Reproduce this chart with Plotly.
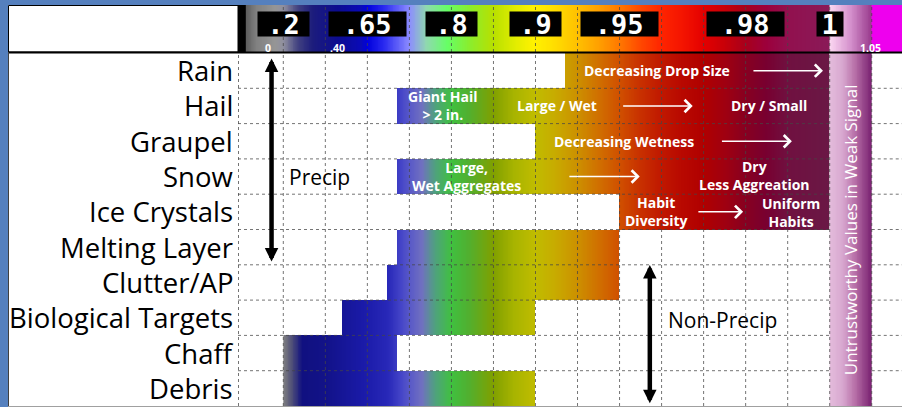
import numpy as np
import plotly.graph_objects as go

W, H = 902, 407

# ---------------- data ----------------
categories = ["Rain", "Hail", "Graupel", "Snow", "Ice Crystals", "Melting Layer",
              "Clutter/AP", "Biological Targets", "Chaff", "Debris"]
# extent of each class along the CC scale (column units of the table)
span_start = [7.7, 3.7, 7.0, 3.7, 9.0, 3.7, 3.47, 2.4, 1.0, 1.0]
span_end = [14.0, 14.0, 14.0, 14.0, 14.0, 9.0, 9.0, 7.0, 3.7, 7.0]
weak_start, weak_end = 14.0, 15.0

tick_labels = [".2", ".65", ".8", ".9", ".95", ".98", "1"]
tick_pos = [1, 3, 5, 7, 9, 12, 14]
sub_labels = ["0", ".40", "1.05"]
sub_pos = [0.64, 2.29, 14.96]

note_text = ["Decreasing Drop Size", "Giant Hail<br>&gt; 2 in.", "Large / Wet", "Dry / Small",
             "Decreasing Wetness", "Large,<br>Wet Aggregates", "Dry<br>Less Aggreation",
             "Habit<br>Diversity", "Uniform<br>Habits"]
note_row = [0, 1, 1, 1, 2, 3, 2.96, 4, 4.02]
note_pos = [9.9, 4.8, 7.5, 12.56, 9.1, 5.35, 12.2, 9.88, 13.08]

arrow_row = [0, 1, 2, 3, 4]
arrow_from = [12.15, 9.05, 11.4, 7.77, 10.84]
arrow_to = [13.84, 10.74, 13.1, 9.48, 11.94]

header_stops = [(-0.08, "#000000"), (0.09, "#000000"), (0.1, "#5a5a5a"), (0.35, "#808080"),
                (0.8, "#959595"), (1.0, "#9090a0"), (1.35, "#404080"), (1.7, "#1c1c7c"),
                (2.3, "#0c0c90"), (2.85, "#0a0ab8"), (3.0, "#0000dd"), (3.4, "#2a2af0"),
                (4.0, "#8c8cff"), (4.4, "#90d8b0"), (4.9, "#66ff66"), (5.4, "#88ee30"),
                (6.0, "#b8e000"), (6.5, "#e0ec00"), (6.95, "#fff200"), (7.4, "#ffe000"),
                (8.0, "#ffc000"), (8.5, "#ffa000"), (9.0, "#ff7800"), (9.5, "#ff4800"),
                (10.0, "#ff2400"), (10.5, "#f41400"), (11.0, "#e40000"), (11.5, "#c80008"),
                (12.0, "#a8001c"), (12.5, "#9c003c"), (13.0, "#92104e"), (13.98, "#8a1a58"),
                (14.0, "#fcd8f2"), (14.5, "#d490cc"), (14.98, "#9a3c8e"), (15.0, "#ee00ee"),
                (15.72, "#ee00ee")]
cell_stops = [(1.0, "#808080"), (1.2, "#505078"), (1.45, "#101080"), (2.0, "#121288"),
              (2.9, "#1a1aa8"), (3.5, "#2828b8"), (3.8, "#4444c8"), (4.0, "#5858c8"),
              (4.3, "#7070c0"), (4.6, "#50a080"), (5.0, "#40c040"), (5.4, "#50b030"),
              (6.0, "#80a000"), (6.5, "#a8b400"), (7.0, "#c0bc00"), (7.5, "#c8aa00"),
              (8.0, "#cc9000"), (8.5, "#d07000"), (9.0, "#d05000"), (9.5, "#c83000"),
              (10.0, "#c01800"), (10.5, "#b80800"), (11.0, "#b00000"), (11.5, "#a00010"),
              (12.0, "#880020"), (12.5, "#780030"), (13.0, "#701040"), (14.0, "#6a1845")]
weak_stops = [(14.0, "#e4bcdc"), (14.3, "#d8a8d0"), (14.6, "#b870a8"), (15.0, "#782070")]

# ---------------- helpers ----------------
X_LO, X_HI = -0.078, 15.72


def cscale(stops):
    lo, hi = stops[0][0], stops[-1][0]
    return [[(u - lo) / (hi - lo), c] for u, c in stops]


def edges(a, b, step=0.02):
    n = int(round((b - a) / step))
    return np.linspace(a, b, n + 1)


fig = go.Figure()

# header colour bar
he = edges(X_LO, X_HI)
hc = (he[:-1] + he[1:]) / 2
fig.add_trace(go.Heatmap(x=he, y=[0], z=[hc], colorscale=cscale(header_stops),
                         zmin=header_stops[0][0], zmax=header_stops[-1][0],
                         showscale=False, hoverinfo="skip", xaxis="x", yaxis="y2"))

# table cells
te = edges(1.0, 14.0)
tc = (te[:-1] + te[1:]) / 2
z = []
for s, e in zip(span_start, span_end):
    z.append([c if (s <= c < e) else np.nan for c in tc])
fig.add_trace(go.Heatmap(x=te, y=list(range(len(categories))), z=z,
                         colorscale=cscale(cell_stops), zmin=cell_stops[0][0], zmax=cell_stops[-1][0],
                         showscale=False, hoverinfo="skip", xaxis="x", yaxis="y"))

# ---------------- layout geometry ----------------
def px_x(p):
    return p / W


def px_y(p):
    return 1 - p / H


tbl_dom = [px_y(406), px_y(53)]
hdr_dom = [px_y(52), px_y(5)]

shapes = []
grid_style = dict(color="rgba(70,70,70,0.75)", width=1, dash="dot")
for k in range(1, 16):
    shapes.append(dict(type="line", xref="x", yref="paper", x0=k, x1=k,
                       y0=tbl_dom[0], y1=hdr_dom[1], line=grid_style, layer="above"))
shapes.append(dict(type="line", xref="paper", yref="paper", x0=px_x(238.5), x1=px_x(238.5),
                   y0=tbl_dom[0], y1=tbl_dom[1], line=grid_style, layer="above"))
for b in np.arange(0.5, len(categories) - 1, 1.0):
    shapes.append(dict(type="line", xref="x", yref="y", x0=X_LO, x1=weak_start, y0=b, y1=b,
                       line=grid_style, layer="above"))
    shapes.append(dict(type="line", xref="x", yref="y", x0=weak_end, x1=X_HI, y0=b, y1=b,
                       line=grid_style, layer="above"))

# weak-signal column drawn above the grid
we = edges(weak_start, weak_end)
wc = (we[:-1] + we[1:]) / 2
fig.add_trace(go.Heatmap(x=we, y=list(range(len(categories))),
                         z=[list(wc) for _ in categories],
                         colorscale=cscale(weak_stops), zmin=weak_stops[0][0], zmax=weak_stops[-1][0],
                         showscale=False, hoverinfo="skip", xaxis="x3", yaxis="y3"))

frame = "#5580be"
shapes += [
    dict(type="rect", xref="paper", yref="paper", x0=0, x1=px_x(8), y0=0, y1=1,
         fillcolor=frame, line=dict(width=0), layer="above"),
    dict(type="rect", xref="paper", yref="paper", x0=0, x1=1, y0=px_y(5), y1=1,
         fillcolor=frame, line=dict(width=0), layer="above"),
    dict(type="rect", xref="paper", yref="paper", x0=px_x(8.5), x1=px_x(238), y0=px_y(52), y1=px_y(5.5),
         fillcolor="white", line=dict(color="black", width=1), layer="above"),
    dict(type="line", xref="paper", yref="paper", x0=px_x(8), x1=1, y0=px_y(52.5), y1=px_y(52.5),
         line=dict(color="black", width=2), layer="above"),
    dict(type="line", xref="paper", yref="paper", x0=px_x(8.5), x1=px_x(8.5), y0=px_y(406), y1=px_y(52),
         line=dict(color="#404040", width=1), layer="above"),
    dict(type="line", xref="paper", yref="paper", x0=px_x(8), x1=1, y0=px_y(406.5), y1=px_y(406.5),
         line=dict(color="#a0a0a0", width=1), layer="above"),
]

ann = []
# category labels
for i, c in enumerate(categories):
    ann.append(dict(xref="paper", yref="y", x=px_x(235), y=i, text=c, showarrow=False,
                    xanchor="right", yanchor="middle",
                    font=dict(family="Open Sans", size=27.5, color="black")))
# header value boxes
for lab, p in zip(tick_labels, tick_pos):
    ann.append(dict(xref="x", yref="y2", x=p, y=0.096, text=lab, showarrow=False,
                    xanchor="center", yanchor="middle", bgcolor="black", borderpad=0,
                    width=25.5 * len(lab), height=24,
                    font=dict(family="DejaVu Sans Mono", size=27, color="white", weight="bold")))
for lab, p in zip(sub_labels, sub_pos):
    ann.append(dict(xref="x", yref="y2", x=p, y=-0.41, text=lab, showarrow=False,
                    xanchor="center", yanchor="middle", borderpad=0,
                    font=dict(family="Open Sans", size=10.5, color="white", weight="bold")))
# in-cell notes
for t, r, p in zip(note_text, note_row, note_pos):
    ann.append(dict(xref="x", yref="y", x=p, y=r, text=t, showarrow=False,
                    xanchor="center", yanchor="middle", borderpad=0,
                    font=dict(family="Open Sans", size=14, color="white", weight="bold")))
for r, a, b in zip(arrow_row, arrow_from, arrow_to):
    ann.append(dict(xref="x", yref="y", x=b, y=r, ax=a, ay=r, axref="x", ayref="y", text="",
                    showarrow=True, arrowhead=4, arrowsize=1.6, arrowwidth=1.5, arrowcolor="white"))
# precip / non-precip
ann.append(dict(xref="x", yref="y", x=0.72, y=5.41, ax=0.72, ay=-0.39, axref="x", ayref="y", text="",
                showarrow=True, arrowside="end+start", arrowhead=2, startarrowhead=2,
                arrowsize=0.6, startarrowsize=0.6, arrowwidth=4.5, arrowcolor="black"))
ann.append(dict(xref="x", yref="y", x=1.85, y=3, text="Precip", showarrow=False,
                font=dict(family="Open Sans", size=21, color="black")))
ann.append(dict(xref="x", yref="y", x=9.72, y=9.42, ax=9.72, ay=5.46, axref="x", ayref="y", text="",
                showarrow=True, arrowside="end+start", arrowhead=2, startarrowhead=2,
                arrowsize=0.6, startarrowsize=0.6, arrowwidth=4.5, arrowcolor="black"))
ann.append(dict(xref="x", yref="y", x=11.44, y=7.07, text="Non-Precip", showarrow=False,
                font=dict(family="Open Sans", size=21, color="black")))
ann.append(dict(xref="x", yref="y", x=14.5, y=4.5, text="Untrustworthy Values in Weak Signal",
                textangle=-90, showarrow=False,
                font=dict(family="Open Sans", size=17, color="white")))

hidden = dict(showgrid=False, zeroline=False, showticklabels=False, ticks="", showline=False)
fig.update_layout(
    width=W, height=H, margin=dict(l=0, r=0, t=0, b=0),
    paper_bgcolor="white", plot_bgcolor="rgba(0,0,0,0)", showlegend=False, hovermode=False,
    xaxis=dict(domain=[px_x(238), 1], range=[X_LO, X_HI], **hidden),
    yaxis=dict(domain=tbl_dom, range=[9.5, -0.5], anchor="x", **hidden),
    yaxis2=dict(domain=hdr_dom, range=[-0.5, 0.5], anchor="x", **hidden),
    xaxis3=dict(domain=[px_x(238), 1], range=[X_LO, X_HI], overlaying="x", **hidden),
    yaxis3=dict(domain=tbl_dom, range=[9.5, -0.5], anchor="x3", overlaying="y", **hidden),
    annotations=ann,
    shapes=shapes,
)

fig.write_html("out.html", config={"displayModeBar": False},
               post_script="document.body.style.margin='0';")
